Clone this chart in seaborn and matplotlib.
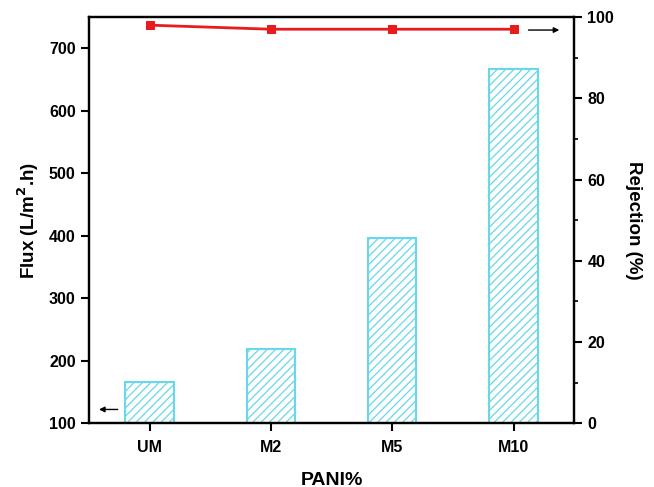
import matplotlib
matplotlib.use("Agg")
import matplotlib.pyplot as plt
import seaborn as sns
import pandas as pd

categories = ["UM", "M2", "M5", "M10"]
flux = [166, 218, 396, 667]
rejection = [98, 97, 97, 97]

sns.set_style("ticks")
plt.rcParams['font.family'] = ['Liberation Sans', 'DejaVu Sans']
plt.rcParams['font.weight'] = 'bold'
plt.rcParams['text.color'] = 'black'
plt.rcParams['axes.labelcolor'] = 'black'
plt.rcParams['xtick.color'] = 'black'
plt.rcParams['ytick.color'] = 'black'
plt.rcParams['hatch.linewidth'] = 0.9
plt.rcParams['hatch.color'] = '#66d8ea'

df = pd.DataFrame({"cat": categories, "flux": flux, "rej": rejection})

fig = plt.figure(figsize=(6.54, 4.87), dpi=100)
ax = fig.add_axes([0.136, 0.131, 0.742, 0.834])

sns.barplot(data=df, x="cat", y="flux", ax=ax, color="white", width=0.4,
            edgecolor="#66d8ea", linewidth=1.5)
for p in ax.patches:
    p.set_hatch("////")
    p.set_edgecolor("#66d8ea")
    p.set_facecolor("white")

ax.set_xlim(-0.5, 3.5)
ax.set_ylim(100, 750)
ax.set_yticks([100, 200, 300, 400, 500, 600, 700])
ax.set_xlabel("PANI%", fontsize=14, fontweight='bold', labelpad=12)
ax.set_ylabel("Flux (L/m$^\\mathbf{2}$.h)", fontsize=13.5, fontweight='bold', labelpad=6)
ax.tick_params(axis='both', labelsize=11.5, width=1.5, length=6, direction='out', colors='black')
ax.tick_params(axis='x', pad=6)
for lab in ax.get_xticklabels() + ax.get_yticklabels():
    lab.set_fontweight('bold')

ax2 = ax.twinx()
sns.lineplot(x=[0, 1, 2, 3], y=rejection, ax=ax2, color="#e81c1c", marker="s",
             markersize=6, markeredgecolor="#e81c1c", linewidth=2)
ax2.set_ylim(0, 100)
ax2.set_yticks([0, 20, 40, 60, 80, 100])
ax2.set_yticks([10, 30, 50, 70, 90], minor=True)
ax2.set_ylabel("Rejection (%)", fontsize=13.5, fontweight='bold', rotation=270, labelpad=20)
ax2.tick_params(axis='y', which='major', labelsize=11.5, width=1.5, length=6, direction='out', colors='black')
ax2.tick_params(axis='y', which='minor', width=1.2, length=3, direction='out', colors='black')
for lab in ax2.get_yticklabels():
    lab.set_fontweight('bold')
ax.set_xlim(-0.5, 3.5)

for a in (ax, ax2):
    for s in a.spines.values():
        s.set_visible(True)
        s.set_linewidth(1.6)
        s.set_color('black')

ax.annotate("", xy=(-0.44, 122), xytext=(-0.24, 122),
            arrowprops=dict(arrowstyle="-|>", color="black", lw=1, mutation_scale=8))
ax2.annotate("", xy=(3.4, 96.8), xytext=(3.1, 96.8),
             arrowprops=dict(arrowstyle="-|>", color="black", lw=1, mutation_scale=8))

fig.savefig("out.png", dpi=100)
